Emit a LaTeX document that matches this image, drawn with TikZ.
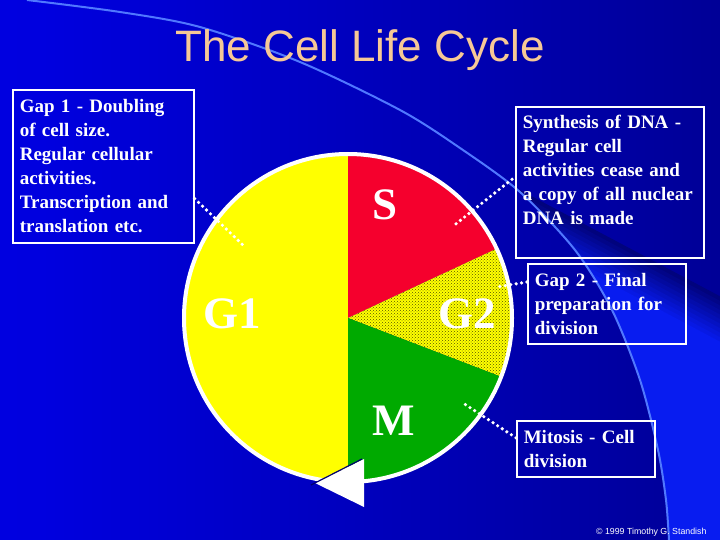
\documentclass[tikz,border=0pt]{standalone}
\usepackage{fontspec}
\setmainfont{Liberation Serif}
\newfontfamily\titlefont{Liberation Sans}
\usetikzlibrary{patterns}

\definecolor{bgleft}{RGB}{0,0,235}
\definecolor{bgright}{RGB}{0,0,112}
\definecolor{glowblue}{RGB}{8,28,240}
\definecolor{arcblue}{RGB}{80,120,255}
\definecolor{titlepeach}{RGB}{246,200,150}
\definecolor{phaseyellow}{RGB}{255,255,0}
\definecolor{phasered}{RGB}{245,0,45}
\definecolor{phasegreen}{RGB}{0,170,0}
\definecolor{dotolive}{RGB}{85,85,0}

\pgfdeclarehorizontalshading{slidebg}{100bp}{color(0bp)=(bgleft); color(28bp)=(bgleft!90!bgright); color(100bp)=(bgright)}

\tikzset{
  infobox/.style={draw=white, line width=1.6pt, anchor=north west, align=left,
    inner xsep=7pt, inner ysep=0pt, text=white,
    font=\fontsize{19}{24}\selectfont\bfseries},
  phaselabel/.style={text=white, anchor=base, font=\fontsize{45}{45}\selectfont\bfseries},
  dotline/.style={white, line width=3.6pt, line cap=round, dash pattern=on 0pt off 5.5pt},
}

\begin{document}
\begin{tikzpicture}[x=1pt, y=-1pt]
    \useasboundingbox (0,0) rectangle (720,540);
    % background
    \shade[shading=slidebg] (0,0) rectangle (720,540);
    \begin{scope}
        \clip plot[smooth] coordinates {(520,192) (575,250) (612,310) (640,380) (658,450) (666,500) (669,540)} -- (720,540) -- (720,180) -- (520,180) -- cycle;
        \begin{scope}[shift={(520,190)}, rotate=-28]
            \foreach \k in {0,...,9} {
                \pgfmathtruncatemacro\pct{90-9*\k}
                \fill[bgright!\pct!glowblue] (-700,\k*4) rectangle (700,\k*4+4.5);
            }
            \fill[glowblue] (-700,40) rectangle (700,900);
        \end{scope}
    \end{scope}
    \draw[arcblue, line width=2pt] plot[smooth] coordinates {(27,0) (120,12) (200,27) (300,62) (400,110) (460,148) (520,192) (575,250) (612,310) (640,380) (658,450) (666,500) (669,540)};

    % title
    \node[font=\titlefont\fontsize{44}{44}\selectfont, text=titlepeach, anchor=base] (title) at (360,62) {The Cell Life Cycle};

    % the cycle
    \coordinate (hub) at (348,318);
    \fill[phaseyellow] (hub) -- +(90:164) arc[start angle=90, end angle=270, radius=164] -- cycle;
    \fill[phasered] (hub) -- +(-90:164) arc[start angle=-90, end angle=-25, radius=164] -- cycle;
    \fill[phaseyellow] (hub) -- +(-25:164) arc[start angle=-25, end angle=21, radius=164] -- cycle;
    \fill[pattern=crosshatch dots, pattern color=dotolive] (hub) -- +(-25:164) arc[start angle=-25, end angle=21, radius=164] -- cycle;
    \fill[phasegreen] (hub) -- +(21:164) arc[start angle=21, end angle=90, radius=164] -- cycle;
    \draw[white, line width=4pt] (hub) circle[radius=164];
    \fill[white] (315,483) -- (364,459) -- (364,507) -- cycle;
    \draw[bgright, line width=1.2pt] (311,485) -- (362,459);

    \node[phaselabel] (g1) at (232,328) {G1};
    \node[phaselabel] (s) at (385,220) {S};
    \node[phaselabel] (g2) at (467,328) {G2};
    \node[phaselabel] (m) at (394,435) {M};

    % description boxes
    \node[infobox, text width=167pt, minimum height=153pt] (g1box) at (12,89)
        {Gap 1 - Doubling\\of cell size.\\Regular cellular\\activities.\\Transcription and\\translation etc.};
    \node[infobox, text width=174pt, minimum height=151pt] (synbox) at (515,106)
        {Synthesis of DNA -\\Regular cell\\activities cease and\\a copy of all nuclear\\DNA is made\\\mbox{}};
    \node[infobox, text width=144pt, minimum height=80pt] (g2box) at (527,263)
        {Gap 2 - Final\\preparation for\\division};
    \node[infobox, text width=124pt, minimum height=56pt] (mbox) at (516,420)
        {Mitosis - Cell\\division};

    % connectors
    \coordinate (g1tip) at (245,247);
    \coordinate (stip) at (452,227);
    \coordinate (g2tip) at (497,287);
    \coordinate (mtip) at (463,403);
    \draw[dotline] ([yshift=45pt]g1box.south east) -- (g1tip);
    \draw[dotline] ([xshift=-3pt,yshift=3pt]synbox.west) -- (stip);
    \draw[dotline] ([yshift=-19pt]g2box.north west) -- (g2tip);
    \draw[dotline] ([yshift=11pt]mbox.west) -- (mtip);

    \node[font=\titlefont\fontsize{8.8}{9}\selectfont, text=white, anchor=base east] (credit) at (710,534) {© 1999 Timothy G. Standish};
\end{tikzpicture}
\end{document}
